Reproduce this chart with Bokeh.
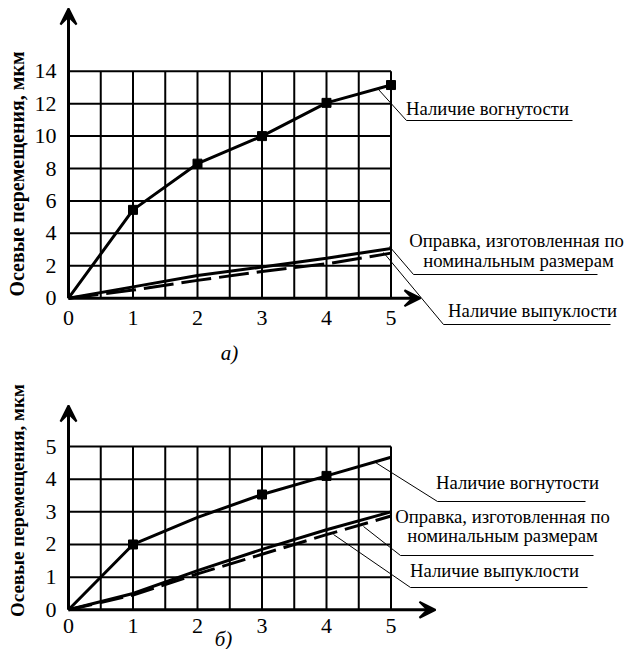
import math
from bokeh.plotting import figure
from bokeh.layouts import column
from bokeh.models import FixedTicker, Label, Arrow, VeeHead, Range1d
from bokeh.embed import file_html
from bokeh.resources import INLINE

# ---------------- data ----------------
x_pts = [0, 1, 2, 3, 4, 5]

a_concave = [0, 5.45, 8.3, 10.0, 12.05, 13.15]
a_nominal = [0, 0.7, 1.4, 1.92, 2.47, 3.06]
a_convex = [0, 0.5, 1.1, 1.65, 2.12, 2.78]
a_marker_x = [1, 2, 3, 4, 5]
a_marker_y = [5.45, 8.3, 10.0, 12.05, 13.15]

b_concave = [0, 2.0, 2.83, 3.53, 4.1, 4.67]
b_nominal = [0, 0.5, 1.2, 1.85, 2.45, 3.0]
b_convex = [0, 0.45, 1.1, 1.7, 2.3, 2.87]
b_marker_x = [1, 3, 4]
b_marker_y = [2.0, 3.53, 4.1]

x_ticks = [0, 1, 2, 3, 4, 5]
a_y_ticks = [0, 2, 4, 6, 8, 10, 12, 14]
b_y_ticks = [0, 1, 2, 3, 4, 5]
x_grid = [0.5, 1, 1.5, 2, 2.5, 3, 3.5, 4, 4.5, 5]

y_title = "Осевые перемещения, мкм"
lbl_concave = "Наличие вогнутости"
lbl_nominal_1 = "Оправка, изготовленная по"
lbl_nominal_2 = "номинальным размерам"
lbl_convex = "Наличие выпуклости"

SERIF = "Liberation Serif"
W = 625
MARGIN = 0  # observed page offset of the figure


class Panel:
    def __init__(self, height, page_top, ox, oy, sx, sy, x_standoff):
        self.h = height
        self.top = page_top
        self.ox, self.oy, self.sx, self.sy = ox, oy, sx, sy
        fx0 = ox - MARGIN
        fy0 = oy - page_top
        x0 = -fx0 / sx
        x1 = (W - fx0) / sx
        y1 = fy0 / sy
        y0 = -(height - fy0) / sy
        self.p = figure(width=W, height=height, x_range=Range1d(x0, x1),
                        y_range=Range1d(y0, y1), output_backend="svg",
                        toolbar_location=None, min_border=0,
                        outline_line_color=None)
        p = self.p
        p.xgrid.visible = False
        p.ygrid.visible = False
        for ax in (p.xaxis[0], p.yaxis[0]):
            ax.fixed_location = 0
            ax.axis_line_color = None
            ax.major_tick_line_color = None
            ax.minor_tick_line_color = None
            ax.major_tick_in = 0
            ax.major_tick_out = 0
            ax.minor_tick_in = 0
            ax.minor_tick_out = 0
            ax.major_label_text_font = SERIF
            ax.major_label_text_font_size = "22px"
            ax.major_label_text_color = "black"
        p.xaxis[0].ticker = FixedTicker(ticks=x_ticks)
        p.xaxis[0].major_label_standoff = x_standoff
        p.yaxis[0].major_label_standoff = 12

    def d(self, px, py):
        return ((px - self.ox) / self.sx, (self.oy - py) / self.sy)


def build(panel, y_ticks, concave, nominal, convex, mx, my, xmax_arrow, ymax_arrow,
          dash, texts, leaders, underlines, title_pos, title_size, sub_text, sub_pos):
    p = panel.p
    p.yaxis[0].ticker = FixedTicker(ticks=y_ticks)
    ytop = y_ticks[-1]
    xr = x_ticks[-1]
    # grid
    p.segment(x0=x_grid, y0=[0] * len(x_grid), x1=x_grid, y1=[ytop] * len(x_grid),
              line_color="black", line_width=2)
    hy = y_ticks[1:]
    p.segment(x0=[0] * len(hy), y0=hy, x1=[xr] * len(hy), y1=hy,
              line_color="black", line_width=2)
    # axes with arrows
    for (xe, ye) in ((0, ymax_arrow), (xmax_arrow, 0)):
        p.add_layout(Arrow(x_start=0, y_start=0, x_end=xe, y_end=ye,
                           line_width=3, line_color="black",
                           end=VeeHead(size=16, line_color="black", line_width=2,
                                       fill_color="black")))
    # curves
    p.line(x_pts, concave, line_color="black", line_width=3)
    p.line(x_pts, nominal, line_color="black", line_width=3)
    p.line(x_pts, convex, line_color="black", line_width=3, line_dash=dash)
    p.scatter(mx, my, marker="square", size=9, color="black")
    # leaders and underlines
    for (a, b) in leaders + underlines:
        x0, y0 = panel.d(*a)
        x1, y1 = panel.d(*b)
        p.segment(x0=[x0], y0=[y0], x1=[x1], y1=[y1], line_color="black",
                  line_width=1)
    for (t, px, py) in texts:
        x, y = panel.d(px, py)
        p.add_layout(Label(x=x, y=y, text=t, text_align="center",
                           text_baseline="middle", text_font=SERIF,
                           text_font_size="18.7px", text_color="black"))
    x, y = panel.d(*title_pos)
    p.add_layout(Label(x=x, y=y, text=y_title, angle=math.pi / 2,
                       text_align="center", text_baseline="middle",
                       text_font=SERIF, text_font_style="bold",
                       text_font_size=title_size, text_color="black"))
    x, y = panel.d(*sub_pos)
    p.add_layout(Label(x=x, y=y, text=sub_text, text_align="center",
                       text_baseline="middle", text_font=SERIF,
                       text_font_style="italic", text_font_size="21px",
                       text_color="black"))


pa = Panel(366, 0, 68, 297.7, 64.5, 16.21, 13)
build(pa, a_y_ticks, a_concave, a_nominal, a_convex, a_marker_x, a_marker_y,
      (420 - 68) / 64.5, (297.7 - 8) / 16.21, "30 8",
      [(lbl_concave, 487, 108), (lbl_nominal_1, 516, 240),
       (lbl_nominal_2, 518, 260), (lbl_convex, 532, 310)],
      [((378, 89), (406, 120)), ((389, 246), (413, 274)), ((383, 252), (443, 324))],
      [((406, 120), (572, 120)), ((413, 274), (597, 274)), ((443, 324), (610, 324))],
      (16.5, 173.5), "20px", "а)", (229, 352))

pb = Panel(283, 366, 68, 609.3, 64.5, 32.66, 9)
build(pb, b_y_ticks, b_concave, b_nominal, b_convex, b_marker_x, b_marker_y,
      (435 - 68) / 64.5, (609.3 - 405) / 32.66, "24 8",
      [(lbl_concave, 517, 482), (lbl_nominal_1, 502, 516),
       (lbl_nominal_2, 502, 535), (lbl_convex, 494, 570)],
      [((375, 462), (437, 501)), ((363, 526), (400, 555)), ((333, 534), (410, 587))],
      [((437, 501), (585, 501)), ((400, 555), (593, 555)), ((410, 587), (587, 587))],
      (16.5, 500), "19px", "б)", (223, 638))

layout = column(pa.p, pb.p)
open("out.html", "w").write(file_html(layout, INLINE))
